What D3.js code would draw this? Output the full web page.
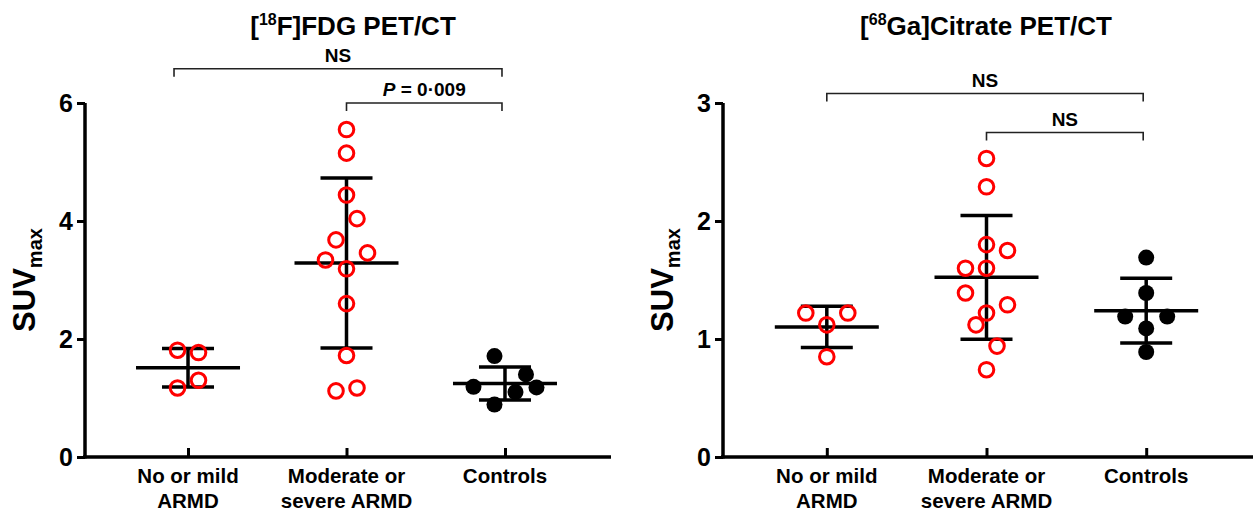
<!DOCTYPE html>
<html>
<head>
<meta charset="utf-8">
<script src="https://cdn.jsdelivr.net/npm/d3@7"></script>
<style>
  body { margin: 0; background: #fff; }
  svg { display: block; font-family: "Liberation Sans", Arial, sans-serif; font-weight: bold; }
</style>
</head>
<body>
<script>
// groups on the x axis (two text lines each)
let groups = ['No or mild ARMD', 'Moderate or severe ARMD', 'Controls']
let groupLines = [['No or mild', 'ARMD'], ['Moderate or', 'severe ARMD'], ['Controls']]

// [18F]FDG SUVmax values
let fdgNoMild = [1.81, 1.77, 1.30, 1.17]
let fdgModerate = [5.55, 5.15, 4.44, 4.04, 3.68, 3.46, 3.34, 3.19, 2.60, 1.72, 1.12, 1.17]
let fdgControls = [1.71, 1.40, 1.19, 1.18, 1.10, 0.89]
// scatter column of each point (GraphPad style spread)
let fdgNoMildCol = [-1, 1, 1, -1]
let fdgModerateCol = [0, 0, 0, 1, -1, 2, -2, 0, 0, 0, -1, 1]
let fdgControlsCol = [-1, 2, -3, 3, 1, -1]
let fdgTicks = [0, 2, 4, 6]

// [68Ga]Citrate SUVmax values
let gaNoMild = [1.22, 1.22, 1.12, 0.85]
let gaModerate = [2.53, 2.29, 1.80, 1.75, 1.60, 1.60, 1.39, 1.29, 1.22, 1.12, 0.94, 0.74]
let gaControls = [1.69, 1.39, 1.19, 1.19, 1.09, 0.89]
let gaNoMildCol = [-2, 2, 0, 0]
let gaModerateCol = [0, 0, 0, 2, -2, 0, -2, 2, 0, -1, 1, 0]
let gaControlsCol = [0, 0, -2, 2, 0, 0]
let gaTicks = [0, 1, 2, 3]

// comparisons: [from group, to group, level in data units, label]
let fdgBrackets = [[0, 2, 6.58, 'NS'], [1, 2, 6.0, 'P = 0·009']]
let gaBrackets = [[0, 2, 3.08, 'NS'], [1, 2, 2.75, 'NS']]

let W = 1253, H = 514
let svg = d3.select('body').append('svg').attr('width', W).attr('height', H)

let panel = (opts) => {
  let g = svg.append('g')
  let x = d3.scalePoint().domain(groups).range([opts.left, opts.right]).padding(0.65)
  let y = d3.scaleLinear().domain([0, d3.max(opts.ticks)]).range([457, 103])
  let unit = 10.5

  // title
  let t = g.append('text').attr('x', opts.titleX).attr('y', 35)
    .attr('text-anchor', 'middle').attr('font-size', 26)
  t.append('tspan').text('[')
  t.append('tspan').attr('font-size', 16).attr('dy', -10).text(opts.iso)
  t.append('tspan').attr('dy', 10).text(opts.title)

  // y axis
  let yAxis = d3.axisLeft(y).tickValues(opts.ticks).tickSize(8).tickPadding(4).tickFormat(d3.format('d'))
  let ya = g.append('g').attr('transform', `translate(${opts.left},0)`).call(yAxis)
  ya.select('.domain').attr('stroke-width', 3.5).attr('d', `M0,${y(0) + 1.5}V${y.range()[1]}`)
  ya.selectAll('.tick line').attr('stroke-width', 3)
  ya.selectAll('.tick text').attr('font-size', 25).attr('font-weight', 'bold')
    .attr('font-family', '"Liberation Sans", Arial, sans-serif').attr('fill', '#000')

  // x axis
  let xAxis = d3.axisBottom(x).tickSize(-9).tickFormat('')
  let xa = g.append('g').attr('transform', `translate(0,${y(0)})`).call(xAxis)
  xa.select('.domain').attr('stroke-width', 3.5).attr('d', `M${opts.left - 2},0H${opts.axisEnd}`)
  xa.selectAll('.tick line').attr('stroke-width', 3)
  groups.forEach((name, i) => {
    let lbl = g.append('text').attr('x', x(name)).attr('y', 483)
      .attr('text-anchor', 'middle').attr('font-size', 20.5)
    groupLines[i].forEach((line, j) => {
      lbl.append('tspan').attr('x', x(name)).attr('dy', j ? 25 : 0).text(line)
    })
  })

  // y label
  let yl = g.append('text').attr('transform', `translate(${opts.left - 50},280) rotate(-90)`)
    .attr('text-anchor', 'middle').attr('font-size', 31)
  yl.append('tspan').text('SUV')
  yl.append('tspan').attr('font-size', 20).attr('dy', 7).text('max')

  // mean and SD bars, then points
  opts.series.forEach((s, i) => {
    let cx = x(groups[i])
    let m = d3.mean(s.values), sd = d3.deviation(s.values)
    let bars = g.append('g').attr('stroke', '#000').attr('stroke-width', 3.5)
    bars.append('line').attr('x1', cx).attr('x2', cx).attr('y1', y(m + sd)).attr('y2', y(m - sd))
    bars.append('line').attr('x1', cx - 26).attr('x2', cx + 26).attr('y1', y(m + sd)).attr('y2', y(m + sd))
    bars.append('line').attr('x1', cx - 26).attr('x2', cx + 26).attr('y1', y(m - sd)).attr('y2', y(m - sd))
    bars.append('line').attr('x1', cx - 52).attr('x2', cx + 52).attr('y1', y(m)).attr('y2', y(m))

    g.append('g').selectAll('circle').data(s.values).enter()
      .append('circle')
      .attr('cx', (d, k) => cx + s.cols[k] * unit)
      .attr('cy', d => y(d))
      .attr('r', s.filled ? 8 : 7.3)
      .attr('fill', s.filled ? '#000' : 'none')
      .attr('stroke', s.filled ? 'none' : '#f00')
      .attr('stroke-width', 3)
  })

  // significance brackets
  opts.brackets.forEach(b => {
    let x1 = x(groups[b[0]]) - (b[0] === 0 && opts.shiftFirst ? 14 : 0)
    let x2 = x(groups[b[1]]) - 3
    let by = y(b[2])
    g.append('path').attr('d', `M${x1},${by + 8}V${by}H${x2}V${by + 8}`)
      .attr('fill', 'none').attr('stroke', '#222').attr('stroke-width', 1.6)
    let lt = g.append('text').attr('x', (x1 + x2) / 2).attr('y', by - 7)
      .attr('text-anchor', 'middle').attr('font-size', 19)
    if (b[3].startsWith('P')) {
      lt.append('tspan').attr('font-style', 'italic').text('P')
      lt.append('tspan').text(b[3].slice(1))
    } else {
      lt.text(b[3])
    }
  })
}

panel({
  left: 85, right: 608, axisEnd: 611, titleX: 353,
  iso: '18', title: 'F]FDG PET/CT', ticks: fdgTicks, shiftFirst: true,
  series: [
    { values: fdgNoMild, cols: fdgNoMildCol },
    { values: fdgModerate, cols: fdgModerateCol },
    { values: fdgControls, cols: fdgControlsCol, filled: true }
  ],
  brackets: fdgBrackets
})

panel({
  left: 723, right: 1250, axisEnd: 1253, titleX: 986,
  iso: '68', title: 'Ga]Citrate PET/CT', ticks: gaTicks,
  series: [
    { values: gaNoMild, cols: gaNoMildCol },
    { values: gaModerate, cols: gaModerateCol },
    { values: gaControls, cols: gaControlsCol, filled: true }
  ],
  brackets: gaBrackets
})
</script>
</body>
</html>
